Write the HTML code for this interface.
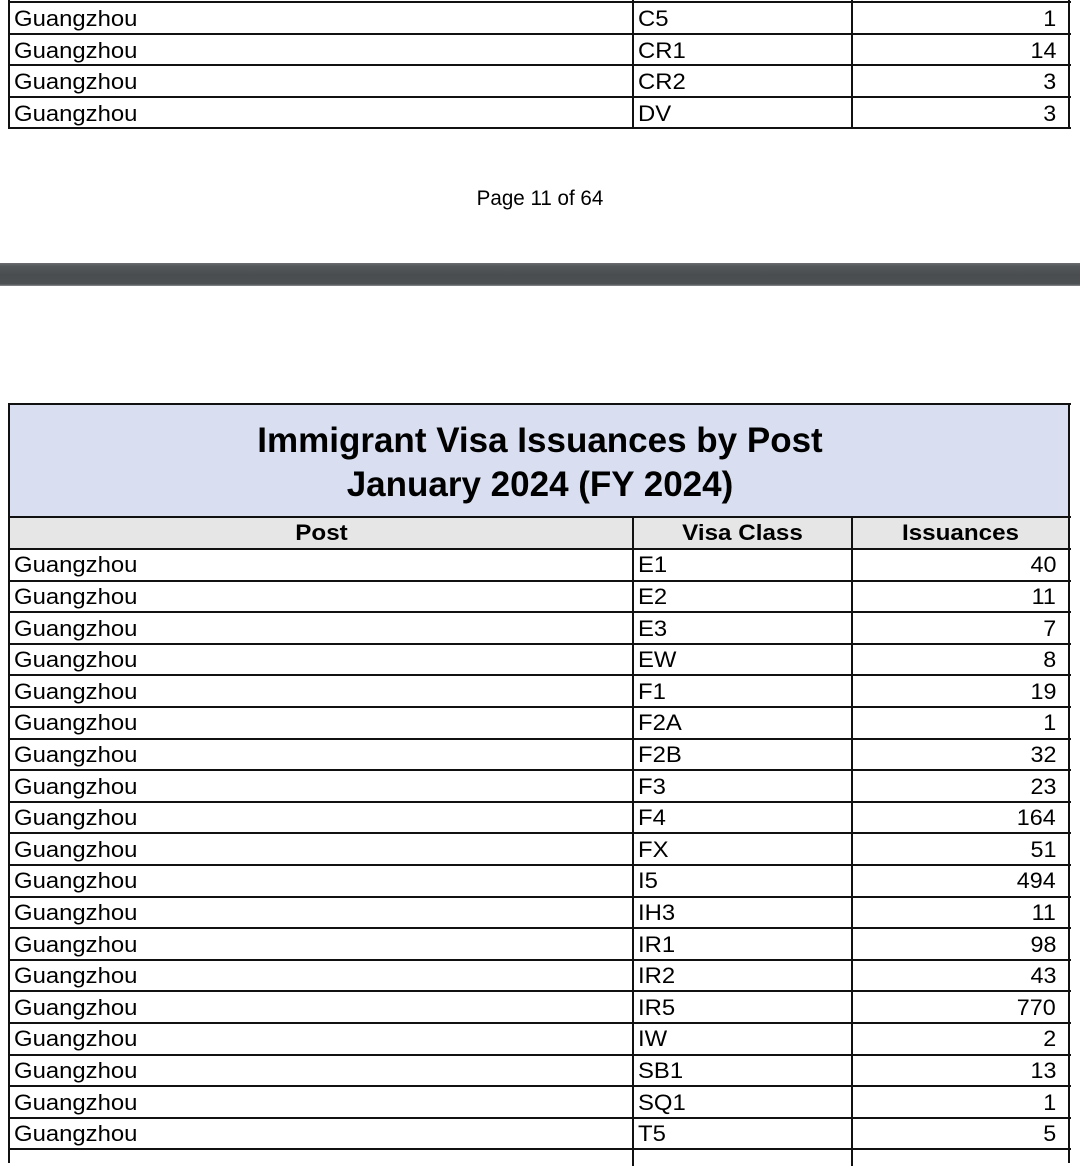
<!DOCTYPE html>
<html><head><meta charset="utf-8"><style>
html,body{margin:0;padding:0;background:#fff;}
body{width:1080px;height:1155px;position:relative;overflow:hidden;font-family:"Liberation Sans",Arial,sans-serif;color:#000;}
.h{position:absolute;left:8px;width:1063px;height:2px;background:#111;}
.v{position:absolute;width:2px;background:#111;}
.r{position:absolute;left:0;width:1080px;height:32px;line-height:32px;font-size:22px;white-space:nowrap;}
.r span{position:absolute;top:0;display:inline-block;}
.r .a{left:14px;transform:scaleX(1.085);transform-origin:0 50%;}
.r .b{left:638px;transform:scaleX(1.085);transform-origin:0 50%;}
.r .c{right:24px;transform:scaleX(1.06);transform-origin:100% 50%;}
.hd{font-weight:bold;}
.hd span.a{left:10px;width:623px;text-align:center;transform:scaleX(1.1);transform-origin:50% 50%;}
.hd span.b{left:634px;width:217px;text-align:center;transform:scaleX(1.1);transform-origin:50% 50%;}
.hd span.c{right:auto;left:852px;width:217px;text-align:center;transform:scaleX(1.1);transform-origin:50% 50%;}
</style></head><body>

<!-- top table -->
<div class="h" style="top:1px"></div>
<div class="h" style="top:32.5px"></div>
<div class="h" style="top:64px"></div>
<div class="h" style="top:95.5px"></div>
<div class="h" style="top:127px"></div>
<div class="v" style="left:8px;top:0;height:129px"></div>
<div class="v" style="left:632px;top:0;height:129px"></div>
<div class="v" style="left:850.5px;top:0;height:129px"></div>
<div class="v" style="left:1068px;top:0;height:129px"></div>

<div class="r" style="top:3px"><span class="a">Guangzhou</span><span class="b">C5</span><span class="c">1</span></div>
<div class="r" style="top:34.7px"><span class="a">Guangzhou</span><span class="b">CR1</span><span class="c">14</span></div>
<div class="r" style="top:66.1px"><span class="a">Guangzhou</span><span class="b">CR2</span><span class="c">3</span></div>
<div class="r" style="top:97.7px"><span class="a">Guangzhou</span><span class="b">DV</span><span class="c">3</span></div>

<div style="position:absolute;left:0;width:1080px;top:186.5px;height:24px;line-height:24px;font-size:21px;text-align:center;transform:scaleX(0.98);transform-origin:540px 50%;">Page 11 of 64</div>

<div style="position:absolute;left:0;top:263px;width:1080px;height:23px;background:linear-gradient(#6b6e71 0px,#55585b 3px,#4a4d50 12px,#4d5053 21px,#8a8c8e 23px);"></div>

<!-- bottom table -->
<div style="position:absolute;left:9px;top:404px;width:1061px;height:113px;background:#d9dff0;"></div>
<div style="position:absolute;left:9px;top:517px;width:1061px;height:32px;background:#e6e6e6;"></div>
<div style="position:absolute;left:0;width:1080px;top:418.6px;font-size:35px;line-height:44px;font-weight:bold;text-align:center;">Immigrant Visa Issuances by Post<br>January 2024 (FY 2024)</div>

<div class="h" style="top:403px"></div>
<div class="h" style="top:516px"></div>
<div class="h" style="top:548px"></div>
<div class="h" style="top:579.6px"></div>
<div class="h" style="top:611.2px"></div>
<div class="h" style="top:642.8px"></div>
<div class="h" style="top:674.4px"></div>
<div class="h" style="top:706px"></div>
<div class="h" style="top:737.6px"></div>
<div class="h" style="top:769.2px"></div>
<div class="h" style="top:800.8px"></div>
<div class="h" style="top:832.4px"></div>
<div class="h" style="top:864px"></div>
<div class="h" style="top:895.6px"></div>
<div class="h" style="top:927.2px"></div>
<div class="h" style="top:958.8px"></div>
<div class="h" style="top:990.4px"></div>
<div class="h" style="top:1022px"></div>
<div class="h" style="top:1053.6px"></div>
<div class="h" style="top:1085.2px"></div>
<div class="h" style="top:1116.8px"></div>
<div class="h" style="top:1148.4px"></div>
<div class="v" style="left:8px;top:403px;height:760px"></div>
<div class="v" style="left:1068px;top:403px;height:760px"></div>
<div class="v" style="left:632px;top:516px;height:650px"></div>
<div class="v" style="left:850.5px;top:516px;height:650px"></div>

<div class="r hd" style="top:517px"><span class="a">Post</span><span class="b">Visa Class</span><span class="c">Issuances</span></div>

<div class="r" style="top:549.4px"><span class="a">Guangzhou</span><span class="b">E1</span><span class="c">40</span></div>
<div class="r" style="top:581px"><span class="a">Guangzhou</span><span class="b">E2</span><span class="c">11</span></div>
<div class="r" style="top:612.6px"><span class="a">Guangzhou</span><span class="b">E3</span><span class="c">7</span></div>
<div class="r" style="top:644.2px"><span class="a">Guangzhou</span><span class="b">EW</span><span class="c">8</span></div>
<div class="r" style="top:675.8px"><span class="a">Guangzhou</span><span class="b">F1</span><span class="c">19</span></div>
<div class="r" style="top:707.4px"><span class="a">Guangzhou</span><span class="b">F2A</span><span class="c">1</span></div>
<div class="r" style="top:739px"><span class="a">Guangzhou</span><span class="b">F2B</span><span class="c">32</span></div>
<div class="r" style="top:770.6px"><span class="a">Guangzhou</span><span class="b">F3</span><span class="c">23</span></div>
<div class="r" style="top:802.2px"><span class="a">Guangzhou</span><span class="b">F4</span><span class="c">164</span></div>
<div class="r" style="top:833.8px"><span class="a">Guangzhou</span><span class="b">FX</span><span class="c">51</span></div>
<div class="r" style="top:865.4px"><span class="a">Guangzhou</span><span class="b">I5</span><span class="c">494</span></div>
<div class="r" style="top:897px"><span class="a">Guangzhou</span><span class="b">IH3</span><span class="c">11</span></div>
<div class="r" style="top:928.6px"><span class="a">Guangzhou</span><span class="b">IR1</span><span class="c">98</span></div>
<div class="r" style="top:960.2px"><span class="a">Guangzhou</span><span class="b">IR2</span><span class="c">43</span></div>
<div class="r" style="top:991.8px"><span class="a">Guangzhou</span><span class="b">IR5</span><span class="c">770</span></div>
<div class="r" style="top:1023.4px"><span class="a">Guangzhou</span><span class="b">IW</span><span class="c">2</span></div>
<div class="r" style="top:1055px"><span class="a">Guangzhou</span><span class="b">SB1</span><span class="c">13</span></div>
<div class="r" style="top:1086.6px"><span class="a">Guangzhou</span><span class="b">SQ1</span><span class="c">1</span></div>
<div class="r" style="top:1118.2px"><span class="a">Guangzhou</span><span class="b">T5</span><span class="c">5</span></div>

</body></html>
